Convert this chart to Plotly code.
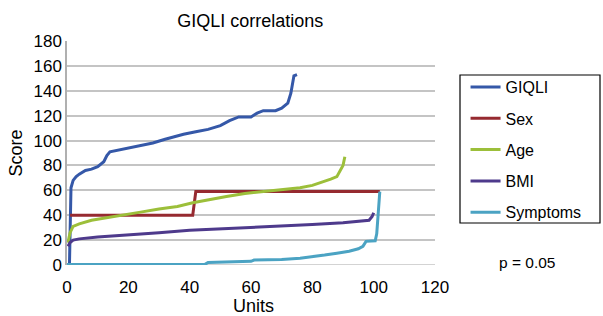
import plotly.graph_objects as go

# ---- data ----
giqli_x = [0.8, 1.3, 2, 3, 4, 6, 8, 10, 12, 13, 14, 16, 20, 24, 28, 32, 35, 38, 42, 46, 50, 53, 56, 60, 62, 64, 68, 70, 72, 73, 74, 75]
giqli_y = [0, 62, 68, 71, 73, 76, 77, 79, 83, 88, 91, 92, 94, 96, 98, 101, 103, 105, 107, 109, 112, 116, 119, 119, 122, 124, 124, 126, 130, 138, 152, 153]

sex_x = [1, 41, 42, 102]
sex_y = [40, 40, 59, 59]

age_x = [0.3, 1, 2, 4, 8, 12, 18, 24, 30, 36, 41, 46, 52, 58, 64, 70, 76, 80, 84, 86, 88, 89, 90, 90.6]
age_y = [18, 26, 31, 33, 36, 37.5, 40, 42.5, 45, 47, 50, 52, 55, 57.5, 59, 60.5, 62, 64, 67, 69, 71, 75, 80, 87]

bmi_x = [0.3, 1, 2, 4, 10, 20, 30, 40, 50, 60, 70, 80, 90, 96, 98.5, 99.5, 100]
bmi_y = [15, 18, 20, 21, 22.5, 24, 26, 28, 29, 30.3, 31, 32.5, 34, 35.5, 36, 39, 42]

sym_x = [0, 45, 46, 60, 61, 70, 76, 80, 84, 88, 92, 95, 96.5, 97.5, 100.5, 101, 101.5, 102]
sym_y = [0.5, 0.5, 2, 3, 4, 4.5, 5.5, 6.5, 8, 9.5, 11, 13, 15, 19, 19.5, 25, 40, 59]

series = [
    ("GIQLI", giqli_x, giqli_y, "#3558A8"),
    ("Sex", sex_x, sex_y, "#962A30"),
    ("Age", age_x, age_y, "#9CBF3A"),
    ("BMI", bmi_x, bmi_y, "#4E3A8C"),
    ("Symptoms", sym_x, sym_y, "#4BA3C3"),
]

x_ticks = [0, 20, 40, 60, 80, 100, 120]
y_ticks = [0, 20, 40, 60, 80, 100, 120, 140, 160, 180]

fig = go.Figure()
for i, (name, xs, ys, col) in enumerate(series):
    fig.add_trace(go.Scatter(x=xs, y=ys, mode="lines", name=name,
                             line=dict(color=col, width=3),
                             legendgroup=str(i)))

font = "Liberation Sans, Arial, sans-serif"
fig.update_layout(
    width=603, height=316,
    margin=dict(l=67, r=168, t=41, b=51),
    paper_bgcolor="white", plot_bgcolor="white",
    font=dict(family=font, size=17, color="black"),
    title=dict(text="GIQLI correlations", x=0.415, xanchor="center", y=0.935, yanchor="middle",
               font=dict(size=18)),
    showlegend=True,
    legend=dict(x=1.083, y=0.87, xanchor="left", yanchor="top",
                borderwidth=0, tracegroupgap=7.5, bgcolor="rgba(0,0,0,0)",
                traceorder="grouped", font=dict(size=16)),
    xaxis=dict(range=[0, 120], tickvals=x_ticks, showgrid=False, zeroline=False,
               automargin=False, ticklabelstandoff=10,
               ticks="", showline=False),
    yaxis=dict(range=[0, 180], tickvals=y_ticks, showgrid=True, gridcolor="#C4C4C4",
               gridwidth=1.5, zeroline=False, ticks="", automargin=False,
               showline=True, linecolor="#B0B0B0", linewidth=1.5,
               title=dict(text="Score", standoff=6, font=dict(size=18))),
    annotations=[
        dict(text="p = 0.05", x=1.25, y=0.01, xref="paper", yref="paper",
             showarrow=False, font=dict(size=15.5), xanchor="center", yanchor="middle"),
        dict(text="Units", x=0.507, y=-0.183, xref="paper", yref="paper",
             showarrow=False, font=dict(size=18), xanchor="center", yanchor="middle"),
    ],
    shapes=[dict(type="rect", xref="paper", yref="paper",
                 x0=(460 - 67) / 368, x1=(600 - 67) / 368,
                 y0=(265 - 223) / 224, y1=(265 - 75) / 224,
                 line=dict(color="black", width=1.2), fillcolor="rgba(0,0,0,0)")],
)
fig.add_hline(y=0, line=dict(color="#C4C4C4", width=1.5), layer="below")

fig.write_html("out.html", config={"displayModeBar": False},
               post_script="document.body.style.margin='0';")
